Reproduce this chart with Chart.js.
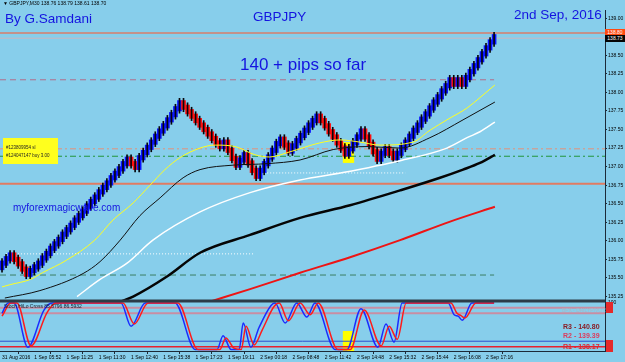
<!DOCTYPE html>
<html>
<head>
<meta charset="utf-8">
<script src="https://cdn.jsdelivr.net/npm/chart.js@4/dist/chart.umd.min.js"></script>
<style>
  html, body { margin: 0; padding: 0; background: #87ceeb; }
  #wrap { position: relative; width: 625px; height: 362px; background: #87ceeb; overflow: hidden; font-family: "Liberation Sans", Arial, sans-serif; }
  #chart { position: absolute; left: 0; top: 0; }
  .t { position: absolute; white-space: nowrap; line-height: 1; }
  .big { color: #1414e0; font-size: 13.5px; }
  .tag { position: absolute; left: 605px; width: 20px; height: 7px; font-size: 5px; line-height: 7px; color: #fff; text-align: center; }
  #tickets { position: absolute; left: 3px; top: 138px; width: 55px; height: 26px; background: #ffff1e; font-size: 4.5px; color: #222; }
  #tickets div { position: absolute; left: 3px; white-space: nowrap; }
  .piv { position: absolute; left: 563px; font-size: 7px; font-weight: bold; white-space: nowrap; line-height: 1; }
  .rbox { position: absolute; left: 606px; width: 7px; background: #e52a2a; }
</style>
</head>
<body>
<div id="wrap">
  <canvas id="chart" width="625" height="362"></canvas>

  <div class="t" style="left:3px;top:1px;font-size:5px;color:#000;">&#9660; GBPJPY,M30 138.76 138.79 138.61 138.70</div>
  <div class="t big" style="left:5px;top:12px;">By G.Samdani</div>
  <div class="t big" style="left:253px;top:10px;">GBPJPY</div>
  <div class="t big" style="left:514px;top:8px;">2nd Sep, 2016</div>
  <div class="t" style="left:240px;top:56px;font-size:17px;color:#1414e0;">140 + pips so far</div>
  <div class="t" style="left:13px;top:203px;font-size:10px;color:#1414e0;">myforexmagicwave.com</div>

  <div id="tickets">
    <div style="top:7px;">#123809954 sl</div>
    <div style="top:15px;">#124047147 buy 3.00</div>
  </div>

  <div class="tag" style="top:29px;background:#ff4a10;">138.80</div>
  <div class="tag" style="top:35px;background:#050505;">138.73</div>

  <div class="t" style="left:4px;top:304px;font-size:5px;color:#14202c;">Stoch HiLo Cross 85.5796 86.5932</div>
  <div class="t" style="left:562px;top:308px;font-size:5px;color:#a9b6c8;">BFX - DAILYPIVOTS</div>
  <div class="piv" style="top:323px;color:#8a1c24;">R3 - 140.80</div>
  <div class="piv" style="top:332px;color:#dc3c5c;">R2 - 139.39</div>
  <div class="piv" style="top:343px;color:#e0262c;">R1 - 138.17</div>
  <div class="rbox" style="top:302px;height:11px;"></div>
  <div class="rbox" style="top:340px;height:12px;"></div>
</div>

<script>
// GBPJPY M30 renko-style chart with MAs and a stochastic pane
const N_SLOTS = 150;          // bar slots across the plot (chart shift on the right stays empty)
const LABEL_EVERY = 8;

const timeLabels = ['31 Aug 2016', '1 Sep 05:52', '1 Sep 11:25', '1 Sep 11:30', '1 Sep 12:40', '1 Sep 15:38',
  '1 Sep 17:23', '1 Sep 19:11', '2 Sep 00:18', '2 Sep 08:48', '2 Sep 11:42', '2 Sep 14:48',
  '2 Sep 15:32', '2 Sep 15:44', '2 Sep 16:08', '2 Sep 17:16'];

// close of each brick, bar 0..122
const closes = [
  135.70, 135.76, 135.81, 135.75, 135.69, 135.62, 135.55, 135.60, 135.65, 135.70,
  135.77, 135.83, 135.90, 135.96, 136.02, 136.09, 136.15, 136.21, 136.28, 136.34,
  136.40, 136.47, 136.53, 136.59, 136.66, 136.72, 136.78, 136.85, 136.91, 136.97,
  137.04, 137.10, 137.04, 136.99, 137.12, 137.19, 137.26, 137.33, 137.41, 137.48,
  137.55, 137.63, 137.70, 137.78, 137.86, 137.80, 137.74, 137.68, 137.62, 137.56,
  137.50, 137.44, 137.38, 137.32, 137.27, 137.33, 137.22, 137.11, 137.02, 137.09,
  137.16, 137.05, 136.95, 136.87, 136.95, 137.04, 137.13, 137.22, 137.31, 137.37,
  137.29, 137.21, 137.28, 137.35, 137.42, 137.49, 137.56, 137.62, 137.68, 137.62,
  137.55, 137.47, 137.40, 137.32, 137.25, 137.17, 137.24, 137.32, 137.40, 137.48,
  137.40, 137.30, 137.20, 137.10, 137.18, 137.24, 137.18, 137.12, 137.18, 137.26,
  137.33, 137.41, 137.49, 137.56, 137.64, 137.71, 137.79, 137.87, 137.94, 138.02,
  138.09, 138.17, 138.11, 138.17, 138.11, 138.20, 138.28, 138.36, 138.44, 138.52,
  138.60, 138.68, 138.75
];

const priceTicks = [135.25, 135.50, 135.75, 136.00, 136.25, 136.50, 136.75, 137.00,
  137.25, 137.50, 137.75, 138.00, 138.25, 138.50, 138.75, 139.00];

// moving averages, read at bar positions
const yellowBar = [0, 2, 7, 10, 16, 23, 27.5, 32.5, 36.7, 40.4, 44.1, 49.1, 52.8, 57.8, 62.7, 66.4, 71.4, 78.8, 83.8, 88.8, 93.7, 101.9, 106.1, 110.3, 115.3, 118.5, 122.2];
const yellowVal = [135.38, 135.41, 135.48, 135.57, 135.74, 136.01, 136.28, 136.51, 136.75, 136.96, 137.12, 137.25, 137.29, 137.27, 137.16, 137.13, 137.20, 137.32, 137.36, 137.33, 137.29, 137.33, 137.49, 137.63, 137.79, 137.93, 138.10];

const blackBar = [0.7, 9.4, 20.1, 24.3, 29.3, 34.2, 39.2, 44.9, 49.1, 57.3, 65.7, 73.9, 82.1, 90.5, 98.7, 106.1, 114.3, 122.2];
const blackVal = [135.23, 135.33, 135.56, 135.72, 136.01, 136.34, 136.58, 136.85, 136.96, 137.02, 137.04, 137.09, 137.23, 137.27, 137.25, 137.39, 137.63, 137.87];

const whiteBar = [18.6, 24.3, 31, 37.4, 49.1, 61.5, 73.9, 84.5, 98.7, 110.3, 115.3, 118.5, 122.2];
const whiteVal = [135.25, 135.48, 135.70, 136.01, 136.39, 136.65, 136.82, 136.92, 137.08, 137.25, 137.39, 137.47, 137.60];

const slowBar = [29.3, 32.5, 40.9, 49.1, 61.5, 73.9, 86.3, 98.7, 108.6, 114.3, 118.5, 122.2];
const slowVal = [135.18, 135.25, 135.52, 135.84, 136.08, 136.31, 136.48, 136.68, 136.85, 136.96, 137.05, 137.16];

const redBar = [52.1, 61.5, 73.9, 86.3, 98.7, 111.1, 122.2];
const redVal = [135.19, 135.35, 135.57, 135.78, 136.01, 136.26, 136.46];

// horizontal levels on the price pane
const levelPrice = [138.80, 138.73, 138.17, 137.24, 137.14, 136.77, 136.915, 135.825, 135.54];
const levelFrom  = [-0.5, -0.5, -0.5, -0.5, -0.5, -0.5, 65, 1, -0.5];
const levelTo    = [149.5, 149.5, 122, 149.5, 149.5, 149.5, 100, 62.5, 122];

// stochastic main / signal
const stochBar = [0, 1.5, 3, 6.4, 10.4, 12.4, 29.5, 32, 35.5, 42.9, 47.9, 53.3, 54.8, 56.8, 58.8, 59.8, 61.7, 63.7, 66.7, 67.7, 70.2, 73.1, 75.6, 77.6, 82.6, 85.5, 89, 93.2, 95.2, 97.2, 99.2, 110.6, 112.1, 113.1, 114.1, 116.5, 122];
const stochVal = [78, 100, 100, 5, 85, 100, 100, 50, 100, 100, 0, 0, 30, 0, 0, 57, 5, 47, 95, 100, 57, 100, 70, 100, 0, 0, 88, 5, 55, 16, 100, 100, 75, 72, 63, 100, 100];
const signalBar = [0, 2.2, 3.7, 7.2, 11.2, 13.4, 30, 32.8, 36.2, 43.6, 48.6, 54, 55.5, 57.5, 59.3, 60.5, 62.5, 64.5, 67.4, 68.7, 71, 73.9, 76.4, 78.4, 83.3, 86.3, 89.8, 94, 96, 98, 100.2, 111.3, 112.8, 113.8, 114.8, 117.5, 122];
const signalVal = [72, 100, 100, 8, 80, 100, 100, 55, 100, 100, 0, 0, 25, 3, 0, 50, 10, 42, 92, 100, 62, 100, 75, 100, 0, 0, 85, 8, 50, 22, 100, 100, 78, 73, 68, 100, 100];
const oscLevels = [90, 78, 18, 6];

// highlighted zones (entry bar)
const zoneFrom = 84.5, zoneTo = 87.3;
const zonePriceLow = 137.05, zonePriceHigh = 137.33;
const zoneOscLow = -3, zoneOscHigh = 40;

// ---- styling ----
const MAIN_W = 291, OSC_W = 50;
const BODY_PAD = 0.03, WICK_PAD = 0.06;
const AXIS_COL = '#1c2a38';
const tickFont = { family: 'Liberation Sans', size: 5 };
const levelStyle = [
  { c: '#c4918a', w: 2, d: [] },
  { c: '#c9b7c0', w: 1, d: [] },
  { c: '#b06f8c', w: 1, d: [6, 4] },
  { c: '#e39079', w: 1, d: [6, 3, 2, 3] },
  { c: '#23963a', w: 1, d: [6, 3, 2, 3] },
  { c: '#e07b62', w: 2, d: [] },
  { c: '#ffffff', w: 1, d: [1, 2] },
  { c: '#ffffff', w: 1, d: [1, 2] },
  { c: '#3b7f63', w: 1, d: [6, 4] }
];
const oscLevelStyle = [
  { c: '#c98ea3', w: 2 }, { c: '#c98ea3', w: 2 }, { c: '#2b4fcf', w: 1 }, { c: '#e8202e', w: 1.5 }
];

const pts = (xs, ys) => xs.map((x, k) => ({ x, y: ys[k] }));

const bodies = [], wicks = [], bodyCols = [];
closes.forEach((c, i) => {
  const o = i ? closes[i - 1] : c - 0.06;
  const lo = Math.min(o, c), hi = Math.max(o, c);
  bodies.push({ x: i, y: [lo - BODY_PAD, hi + BODY_PAD] });
  wicks.push({ x: i, y: [lo - WICK_PAD, hi + WICK_PAD] });
  bodyCols.push(c >= o ? '#0a14ff' : '#ff1010');
});

// lines are clipped to their own pane (dataset area = x scale x y scale)
const lineDs = (data, color, width, extra) => Object.assign({
  type: 'line', data, borderColor: color, borderWidth: width, pointRadius: 0,
  cubicInterpolationMode: 'monotone', yAxisID: 'y', clip: 0, order: 2
}, extra || {});

const datasets = [];
levelPrice.forEach((p, k) => {
  const s = levelStyle[k];
  datasets.push(lineDs([{ x: levelFrom[k], y: p }, { x: levelTo[k], y: p }], s.c, s.w, { borderDash: s.d, order: 8 }));
});
oscLevels.forEach((v, k) => {
  const s = oscLevelStyle[k];
  datasets.push(lineDs([{ x: -0.5, y: v }, { x: N_SLOTS - 0.5, y: v }], s.c, s.w, { yAxisID: 'osc', order: 8 }));
});
datasets.push({ type: 'bar', data: bodies, backgroundColor: bodyCols, barThickness: 4, grouped: false, yAxisID: 'y', order: 5 });
datasets.push({ type: 'bar', data: wicks, backgroundColor: '#06060c', barThickness: 1, grouped: false, yAxisID: 'y', order: 4 });
datasets.push(lineDs(pts(slowBar, slowVal), '#050505', 2.5));
datasets.push(lineDs(pts(redBar, redVal), '#ee1414', 2));
datasets.push(lineDs(pts(whiteBar, whiteVal), '#ffffff', 1.5));
datasets.push(lineDs(pts(blackBar, blackVal), '#101010', 1));
datasets.push(lineDs(pts(yellowBar, yellowVal), '#ffff20', 1));
datasets.push(lineDs(pts(stochBar, stochVal), '#1a2cff', 1.5, { yAxisID: 'osc', order: 1 }));
datasets.push(lineDs(pts(signalBar, signalVal), '#ff1a1a', 1.5, { yAxisID: 'osc', order: 0 }));

const paneDecor = {
  id: 'paneDecor',
  beforeDatasetsDraw(chart) {
    const { ctx, scales: { x, y, osc } } = chart;
    ctx.save();
    ctx.fillStyle = '#ffff00';
    const x0 = x.getPixelForValue(zoneFrom), x1 = x.getPixelForValue(zoneTo);
    let y0 = y.getPixelForValue(zonePriceHigh), y1 = y.getPixelForValue(zonePriceLow);
    ctx.fillRect(x0, y0, x1 - x0, y1 - y0);
    y0 = osc.getPixelForValue(zoneOscHigh); y1 = osc.getPixelForValue(zoneOscLow);
    ctx.fillRect(x0, y0, x1 - x0, y1 - y0);
    ctx.restore();
  },
  afterDraw(chart) {
    const { ctx, chartArea, scales: { y } } = chart;
    ctx.save();
    ctx.strokeStyle = '#2c3c48';
    ctx.lineWidth = 3;
    ctx.beginPath();
    ctx.moveTo(chartArea.left, y.bottom);
    ctx.lineTo(chartArea.right, y.bottom);
    ctx.stroke();
    ctx.restore();
  }
};

new Chart(document.getElementById('chart'), {
  type: 'bar',
  data: { datasets },
  plugins: [paneDecor],
  options: {
    responsive: false,
    animation: false,
    devicePixelRatio: 1,
    layout: { padding: { top: 10, left: 0, right: 0, bottom: 0 } },
    plugins: { legend: { display: false }, tooltip: { enabled: false } },
    scales: {
      x: {
        type: 'linear', position: 'bottom', min: -0.5, max: N_SLOTS - 0.5, offset: false,
        afterBuildTicks: ax => { ax.ticks = timeLabels.map((_, k) => ({ value: k * LABEL_EVERY })); },
        afterFit: ax => { ax.height = 11; },
        ticks: { callback: v => timeLabels[Math.round(v / LABEL_EVERY)] || '', font: tickFont, color: '#000',
          align: 'start', padding: 1, maxRotation: 0, autoSkip: false },
        grid: { drawOnChartArea: false, tickLength: 3, color: AXIS_COL },
        border: { color: AXIS_COL }
      },
      y: {
        position: 'right', stack: 'pane', stackWeight: MAIN_W, min: 135.19, max: 139.11,
        afterBuildTicks: ax => { ax.ticks = priceTicks.map(v => ({ value: v })); },
        afterFit: ax => { ax.width = 20; },
        ticks: { callback: v => v.toFixed(2), font: tickFont, color: '#000', padding: 1 },
        grid: { drawOnChartArea: false, tickLength: 2, color: AXIS_COL },
        border: { color: AXIS_COL }
      },
      osc: {
        position: 'right', stack: 'pane', stackWeight: OSC_W, min: -3, max: 104.5,
        afterBuildTicks: ax => { ax.ticks = [{ value: 100 }]; },
        afterFit: ax => { ax.width = 20; },
        ticks: { font: tickFont, color: '#000', padding: 1 },
        grid: { drawOnChartArea: false, tickLength: 2, color: AXIS_COL },
        border: { color: AXIS_COL }
      }
    }
  }
});
</script>
</body>
</html>
